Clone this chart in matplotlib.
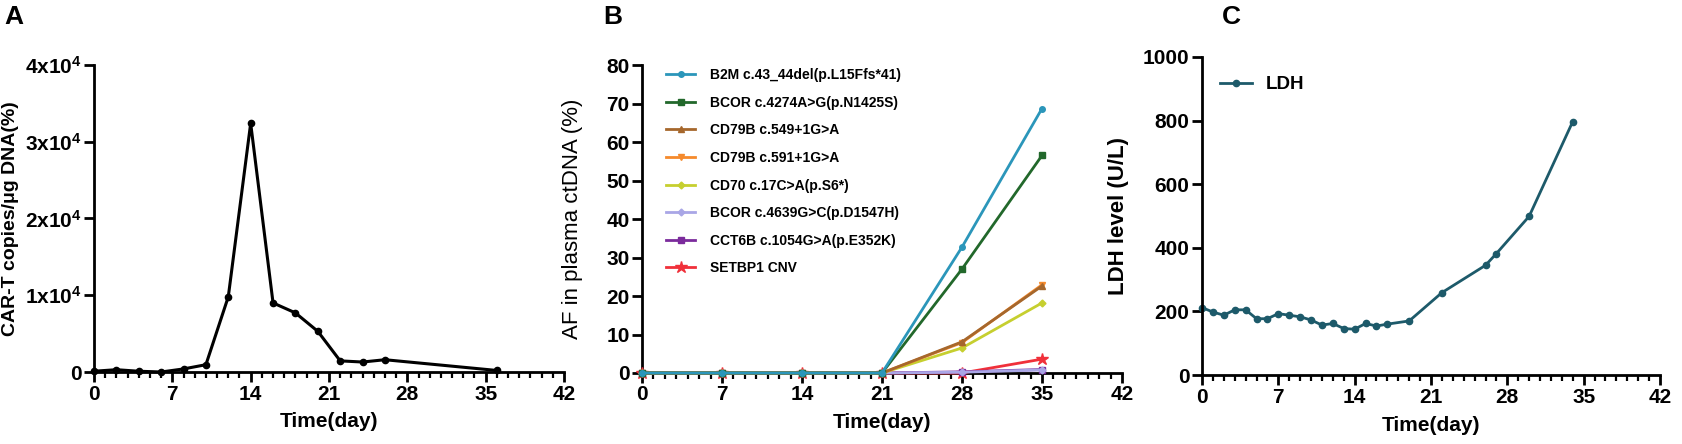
import matplotlib
matplotlib.use("Agg")
import matplotlib.pyplot as plt
from matplotlib.ticker import MultipleLocator, FixedLocator

plt.rcParams['font.family'] = ['Liberation Sans', 'DejaVu Sans']
plt.rcParams['mathtext.fontset'] = 'custom'
plt.rcParams['mathtext.rm'] = 'Liberation Sans'
plt.rcParams['mathtext.bf'] = 'Liberation Sans:bold'

# panel A: CAR-T copies
days_a = [0, 2, 4, 6, 8, 10, 12, 14, 16, 18, 20, 22, 24, 26, 36]
car_t = [100, 300, 100, 0, 400, 950, 9800, 32400, 9000, 7700, 5300, 1450, 1300, 1600, 200]
yticks_a = [0, 10000, 20000, 30000, 40000]
ytick_labels_a = ['0', r'$\mathbf{1x10^{4}}$', r'$\mathbf{2x10^{4}}$',
                  r'$\mathbf{3x10^{4}}$', r'$\mathbf{4x10^{4}}$']

# panel B: allele frequency in plasma ctDNA
days_b = [0, 7, 14, 21, 28, 35]
b2m = [0, 0, 0, 0, 32.7, 68.7]
bcor_4274 = [0, 0, 0, 0, 27.0, 56.5]
cd79b_549 = [0, 0, 0, 0, 8.1, 22.6]
cd79b_591 = [0, 0, 0, 0, 7.9, 22.9]
cd70 = [0, 0, 0, 0, 6.5, 18.2]
bcor_4639 = [0, 0, 0, 0, 0.2, 0.8]
cct6b = [0, 0, 0, 0, 0.3, 0.9]
setbp1 = [0, 0, 0, 0, 0, 3.6]
labels_b = ['B2M c.43_44del(p.L15Ffs*41)', 'BCOR c.4274A>G(p.N1425S)',
            'CD79B c.549+1G>A', 'CD79B c.591+1G>A', 'CD70 c.17C>A(p.S6*)',
            'BCOR c.4639G>C(p.D1547H)', 'CCT6B c.1054G>A(p.E352K)', 'SETBP1 CNV']

# panel C: LDH
days_c = [0, 1, 2, 3, 4, 5, 6, 7, 8, 9, 10, 11, 12, 13, 14, 15, 16, 17,
          19, 22, 26, 27, 30, 34]
ldh = [212, 198, 188, 205, 205, 177, 177, 193, 188, 183, 173, 157, 162, 146,
       144, 162, 154, 160, 170, 259, 345, 382, 499, 797]

W, H = 1682, 444
fig = plt.figure(figsize=(W / 100, H / 100), dpi=100)


def px_axes(x0, x1, y_top, y_bot):
    return fig.add_axes([x0 / W, 1 - y_bot / H, (x1 - x0) / W, (y_bot - y_top) / H])


def style_axes(ax):
    for side in ['top', 'right']:
        ax.spines[side].set_visible(False)
    for side in ['left', 'bottom']:
        ax.spines[side].set_linewidth(2.0)
    ax.set_xlim(0, 42)
    ax.xaxis.set_major_locator(MultipleLocator(7))
    ax.xaxis.set_minor_locator(MultipleLocator(1))
    ax.tick_params(axis='both', which='major', width=2.0, length=7,
                   labelsize=15, pad=2)
    ax.tick_params(axis='x', which='minor', width=1.6, length=4)
    for lab in ax.get_xticklabels() + ax.get_yticklabels():
        lab.set_fontweight('bold')
    ax.set_xlabel('Time(day)', fontsize=15, fontweight='bold', va='center')
    ax.xaxis.set_label_coords(0.5, -0.16)


# A
ax_a = px_axes(94, 564, 65, 372)
ax_a.plot(days_a, car_t, color='black', lw=2.2, marker='o', ms=4.5, clip_on=False)
ax_a.set_ylim(0, 40000)
ax_a.yaxis.set_major_locator(FixedLocator(yticks_a))
ax_a.set_yticklabels(ytick_labels_a)
style_axes(ax_a)
ax_a.set_ylabel('CAR-T copies/\u03bcg DNA(%)', fontsize=14, fontweight='bold')
ax_a.yaxis.set_label_coords(-0.16, 0.5)

# B
ax_b = px_axes(642, 1122, 65, 373)
series_b = [b2m, bcor_4274, cd79b_549, cd79b_591, cd70, bcor_4639, cct6b, setbp1]
colors_b = ['#2b96ba', '#22682b', '#a6672c', '#f58a2c', '#c6cf2f',
            '#a9a6e6', '#7b2b9c', '#f0303a']
markers_b = ['o', 's', '^', 'v', 'D', 'D', 's', '*']
sizes_b = [4, 4, 4.5, 4.5, 3.5, 3.5, 4.5, 9]
for i, (vals, c, m, s, lab) in enumerate(zip(series_b, colors_b, markers_b, sizes_b, labels_b)):
    ax_b.plot(days_b, vals, color=c, lw=2.0, marker=m, ms=s, label=lab,
              clip_on=False, zorder=10 - i)
ax_b.set_ylim(0, 80)
ax_b.yaxis.set_major_locator(MultipleLocator(10))
style_axes(ax_b)
ax_b.set_ylabel('AF in plasma ctDNA (%)', fontsize=16)
ax_b.yaxis.set_label_coords(-0.123, 0.5)
leg_b = ax_b.legend(loc='upper left', bbox_to_anchor=(0.05, 0.99), frameon=False,
                    prop={'size': 10, 'weight': 'bold'}, handlelength=2.1,
                    handletextpad=1.1, labelspacing=0.98, borderaxespad=0,
                    borderpad=0)

# C
ax_c = px_axes(1202, 1660, 57, 375)
ax_c.plot(days_c, ldh, color='#1d5a6a', lw=2.0, marker='o', ms=4.5,
          label='LDH', clip_on=False)
ax_c.set_ylim(0, 1000)
ax_c.yaxis.set_major_locator(MultipleLocator(200))
style_axes(ax_c)
ax_c.set_ylabel('LDH level (U/L)', fontsize=16, fontweight='bold')
ax_c.yaxis.set_label_coords(-0.16, 0.5)
ax_c.legend(loc='upper left', bbox_to_anchor=(0.04, 0.94), frameon=False,
            prop={'size': 13.5, 'weight': 'bold'}, handlelength=1.7,
            handletextpad=0.7, borderaxespad=0, borderpad=0)

for letter, x in [('A', 4), ('B', 603), ('C', 1222)]:
    fig.text(x / W, 1 - 17 / H, letter, fontsize=19, fontweight='bold',
             ha='left', va='center')

fig.savefig('out.png', dpi=100)
